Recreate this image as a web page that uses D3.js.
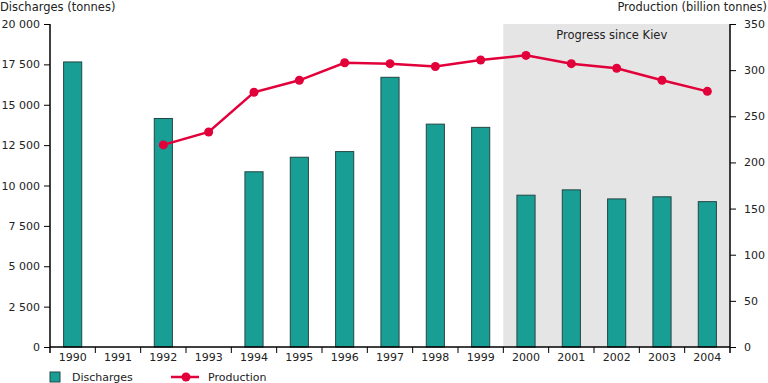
<!DOCTYPE html>
<html>
<head>
<meta charset="utf-8">
<script src="https://cdn.jsdelivr.net/npm/d3@7"></script>
<style>
  body { margin: 0; background: #fff; }
  svg { font-family: "DejaVu Sans", Verdana, sans-serif; }
</style>
</head>
<body>
<div id="chart"></div>
<script>
// data
var years = ['1990', '1991', '1992', '1993', '1994', '1995', '1996', '1997',
  '1998', '1999', '2000', '2001', '2002', '2003', '2004'];
var discharges = [17650, null, 14150, null, 10850, 11750, 12100, 16700,
  13800, 13600, 9400, 9730, 9170, 9300, 9000];
var production = [null, null, 219, 233, 276, 289, 308, 307,
  304, 311, 316, 307, 302, 289, 277];
var leftTicks = [0, 2500, 5000, 7500, 10000, 12500, 15000, 17500, 20000];
var rightTicks = [0, 50, 100, 150, 200, 250, 300, 350];
var kievStart = '2000';

// plot box (note: "top" is a reserved window global, so use m* names)
var width = 768, height = 383,
  mLeft = 50, mRight = 730, mTop = 24, mBottom = 347;

var svg = d3.select('#chart').append('svg')
  .attr('width', width).attr('height', height);

var x = d3.scaleBand().domain(years).range([mLeft, mRight]).paddingInner(0.6).paddingOuter(0.3);
var xb = d3.scaleBand().domain(years).range([mLeft, mRight]);
var yL = d3.scaleLinear().domain([0, 20000]).range([mBottom, mTop]);
var yR = d3.scaleLinear().domain([0, 350]).range([mBottom, mTop]);

// shaded period
svg.append('rect')
  .attr('x', xb(kievStart)).attr('y', mTop)
  .attr('width', mRight - xb(kievStart)).attr('height', mBottom - mTop)
  .attr('fill', '#e5e5e5');
svg.append('text')
  .attr('x', xb(kievStart) + 53).attr('y', mTop + 15)
  .attr('font-size', 11.5).attr('fill', '#222')
  .text('Progress since Kiev');

// bars
svg.append('g').selectAll('rect').data(years.filter(function(d, i) { return discharges[i] != null; }))
  .enter().append('rect')
  .attr('x', function(d) { return x(d); })
  .attr('y', function(d) { return yL(discharges[years.indexOf(d)]); })
  .attr('width', x.bandwidth())
  .attr('height', function(d) { return mBottom - yL(discharges[years.indexOf(d)]); })
  .attr('fill', '#189e95').attr('stroke', '#234644').attr('stroke-width', 1);

// production line
var pts = years.map(function(d, i) { return { year: d, v: production[i] }; })
  .filter(function(d) { return d.v != null; });
var line = d3.line()
  .x(function(d) { return xb(d.year) + xb.bandwidth() / 2; })
  .y(function(d) { return yR(d.v); });
svg.append('path').datum(pts).attr('d', line)
  .attr('fill', 'none').attr('stroke', '#e2003b').attr('stroke-width', 2.5);
svg.append('g').selectAll('circle').data(pts).enter().append('circle')
  .attr('cx', function(d) { return xb(d.year) + xb.bandwidth() / 2; })
  .attr('cy', function(d) { return yR(d.v); })
  .attr('r', 4.5).attr('fill', '#e2003b');

// axes
var axL = svg.append('g').attr('transform', 'translate(' + mLeft + ',0)')
  .call(d3.axisLeft(yL).tickValues(leftTicks).tickSize(6).tickPadding(4)
    .tickFormat(function(d) { return d3.format(',')(d).replace(',', ' '); }));
var axR = svg.append('g').attr('transform', 'translate(' + mRight + ',0)')
  .call(d3.axisRight(yR).tickValues(rightTicks).tickSize(6).tickPadding(8));
var axB = svg.append('g').attr('transform', 'translate(0,' + mBottom + ')')
  .call(d3.axisBottom(xb).tickSize(0).tickPadding(6));
// tick marks between categories
axB.selectAll('.sep').data(years.slice(1)).enter().append('line')
  .attr('x1', function(d) { return xb(d); }).attr('x2', function(d) { return xb(d); })
  .attr('y1', 0).attr('y2', 6).attr('stroke', '#000');

[axL, axR, axB].forEach(function(a) {
  a.selectAll('path.domain').attr('stroke', '#000').attr('stroke-width', 1.5);
  a.selectAll('text').attr('font-size', 11).attr('font-family', '"DejaVu Sans", Verdana, sans-serif').attr('fill', '#222');
});
axL.select('path.domain').attr('d', 'M0,' + mTop + 'V' + (mBottom + 6));
axR.select('path.domain').attr('d', 'M0,' + mTop + 'V' + (mBottom + 6));
axB.select('path.domain').attr('d', 'M' + mLeft + ',0H' + mRight);

// axis titles
svg.append('text').attr('x', 0).attr('y', 11).attr('font-size', 11.5).attr('fill', '#222')
  .text('Discharges (tonnes)');
svg.append('text').attr('x', 767).attr('y', 11).attr('font-size', 11.4).attr('fill', '#222')
  .attr('text-anchor', 'end').text('Production (billion tonnes)');

// legend
var lg = svg.append('g').attr('transform', 'translate(0,377)');
lg.append('rect').attr('x', 50).attr('y', -5).attr('width', 10).attr('height', 10)
  .attr('fill', '#189e95').attr('stroke', '#234644');
lg.append('text').attr('x', 72).attr('y', 4).attr('font-size', 11).attr('fill', '#222').text('Discharges');
lg.append('line').attr('x1', 171).attr('x2', 199).attr('y1', 0).attr('y2', 0)
  .attr('stroke', '#e2003b').attr('stroke-width', 2.5);
lg.append('circle').attr('cx', 186).attr('cy', 0).attr('r', 4.5).attr('fill', '#e2003b');
lg.append('text').attr('x', 208).attr('y', 4).attr('font-size', 11).attr('fill', '#222').text('Production');
</script>
</body>
</html>
